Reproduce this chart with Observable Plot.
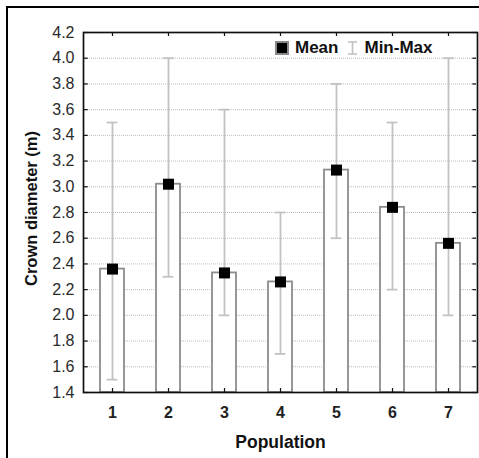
<!DOCTYPE html>
<html>
<head>
<meta charset="utf-8">
<script src="https://cdn.jsdelivr.net/npm/d3@7"></script>
<script src="https://cdn.jsdelivr.net/npm/@observablehq/plot@0.6"></script>
<style>
  html, body { margin: 0; padding: 0; background: #fff; }
  #wrap { position: relative; width: 479px; height: 458px; overflow: hidden; font-family: "Liberation Sans", Arial, sans-serif; }
  #border { position: absolute; left: 6px; top: 6px; width: 600px; height: 600px; border-top: 2px solid #000; border-left: 2px solid #000; pointer-events: none; }
  #legend { position: absolute; left: 275px; top: 38px; display: flex; align-items: center; font-weight: bold; font-size: 17px; color: #111; white-space: nowrap; }
  #legend .sq { display: inline-block; width: 10px; height: 10px; background: #000; border: 2px solid #8a8a8a; margin-right: 6px; }
  #legend svg { margin: 0 6px 0 9px; }
</style>
</head>
<body>
<div id="wrap"><div id="border"></div></div>
<script>
const categories = ["1", "2", "3", "4", "5", "6", "7"];
const means = [2.36, 3.02, 2.33, 2.26, 3.13, 2.84, 2.56];
const mins = [1.5, 2.3, 2.0, 1.7, 2.6, 2.2, 2.0];
const maxs = [3.5, 4.0, 3.6, 2.8, 3.8, 3.5, 4.0];
const yTicks = [1.4, 1.6, 1.8, 2.0, 2.2, 2.4, 2.6, 2.8, 3.0, 3.2, 3.4, 3.6, 3.8, 4.0, 4.2];
const yTitle = "Crown diameter (m)";
const xTitle = "Population";
const legendLabels = ["Mean", "Min-Max"];

const data = categories.map((c, i) => ({cat: c, mean: means[i], min: mins[i], max: maxs[i]}));

const W = 479, H = 458, mL = 83, mR = 2, mT = 32, mB = 66;
const bw = (W - mL - mR) / categories.length;
const innerH = H - mT - mB;
const errColor = "#c2c2c2";

const chart = Plot.plot({
  width: W, height: H,
  marginLeft: mL, marginRight: mR, marginTop: mT, marginBottom: mB,
  style: {fontFamily: "'Liberation Sans', Arial, sans-serif", background: "transparent", overflow: "visible"},
  x: {domain: categories, padding: 0, label: null},
  y: {domain: [1.4, 4.2], ticks: yTicks, label: null},
  marks: [
    Plot.gridY(yTicks, {stroke: "#bdbdbd", strokeOpacity: 1, strokeDasharray: "1,1", strokeWidth: 1}),
    Plot.barY(data, {x: "cat", y1: 1.4, y2: "mean", fill: "white", stroke: "#8c8c8c", strokeWidth: 1.8, insetLeft: 16, insetRight: 16}),
    Plot.ruleX(data, {x: "cat", y1: "min", y2: "max", stroke: errColor, strokeWidth: 1.8}),
    Plot.tickY(data, {x: "cat", y: "min", stroke: errColor, strokeWidth: 1.8, insetLeft: (bw - 11) / 2, insetRight: (bw - 11) / 2}),
    Plot.tickY(data, {x: "cat", y: "max", stroke: errColor, strokeWidth: 1.8, insetLeft: (bw - 11) / 2, insetRight: (bw - 11) / 2}),
    Plot.dot(data, {x: "cat", y: "mean", symbol: "square", r: 6.2, fill: "#000", stroke: "none"}),
    // inward ticks
    Plot.ruleX(categories, {x: d => d, insetBottom: innerH - 4, stroke: "#111", strokeWidth: 1.2}),
    Plot.ruleX(categories, {x: d => d, insetTop: innerH - 4, stroke: "#111", strokeWidth: 1.2}),
    Plot.tickY(yTicks, {x: () => categories[0], y: d => d, insetRight: bw - 4, stroke: "#111", strokeWidth: 1.2}),
    Plot.tickY(yTicks, {x: () => categories[categories.length - 1], y: d => d, insetLeft: bw - 4, stroke: "#111", strokeWidth: 1.2}),
    Plot.frame({stroke: "#111", strokeWidth: 1.7}),
    Plot.axisY(yTicks, {anchor: "left", tickSize: 0, tickPadding: 9, fontSize: 16, tickFormat: d => d.toFixed(1), fill: "#2a2a2a"}),
    Plot.axisX({anchor: "bottom", tickSize: 0, tickPadding: 14, fontSize: 16, fontWeight: "bold", fill: "#222"}),
    Plot.text([yTitle], {frameAnchor: "left", textAnchor: "middle", lineAnchor: "middle", dx: -52, dy: -4, rotate: -90, fontSize: 16.5, fontWeight: "bold", fill: "#111", text: d => d}),
    Plot.text([xTitle], {frameAnchor: "bottom", textAnchor: "middle", lineAnchor: "middle", dy: 50, fontSize: 17.5, fontWeight: "bold", fill: "#111", text: d => d})
  ]
});

const wrap = document.getElementById("wrap");
wrap.insertBefore(chart, wrap.firstChild);

const legend = document.createElement("div");
legend.id = "legend";
legend.innerHTML = `<span class="sq"></span><span>${legendLabels[0]}</span>` +
  `<svg width="11" height="14"><line x1="1" y1="1" x2="10" y2="1" stroke="${errColor}" stroke-width="1.6"/><line x1="5.5" y1="1" x2="5.5" y2="13" stroke="${errColor}" stroke-width="1.6"/><line x1="1" y1="13" x2="10" y2="13" stroke="${errColor}" stroke-width="1.6"/></svg>` +
  `<span>${legendLabels[1]}</span>`;
wrap.appendChild(legend);
</script>
</body>
</html>
